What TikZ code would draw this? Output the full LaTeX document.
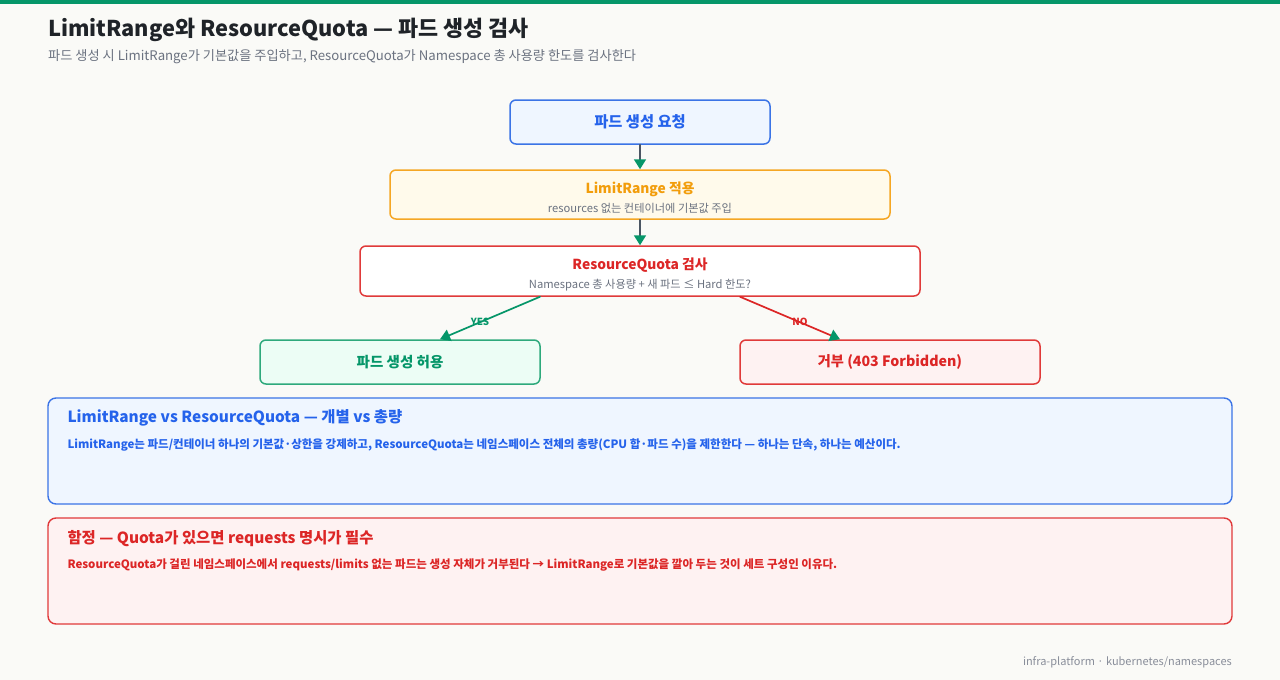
\documentclass[tikz,border=0pt]{standalone}
\usepackage{fontspec}
\setmainfont{Noto Sans CJK KR}
\usetikzlibrary{arrows.meta,positioning}
\definecolor{pagebg}{HTML}{FAFAF7}
\definecolor{accent}{HTML}{059669}
\definecolor{ink}{HTML}{1F2328}
\definecolor{muted}{HTML}{6B7280}
\definecolor{blueln}{HTML}{3B74E6}
\definecolor{bluebg}{HTML}{EFF6FF}
\definecolor{bluetx}{HTML}{2563EB}
\definecolor{amberln}{HTML}{F5A623}
\definecolor{amberbg}{HTML}{FFFAEB}
\definecolor{ambertx}{HTML}{F29D0B}
\definecolor{redln}{HTML}{E03A3A}
\definecolor{redbg}{HTML}{FEF2F2}
\definecolor{redtx}{HTML}{DC2626}
\definecolor{greenln}{HTML}{2EA97C}
\definecolor{greenbg}{HTML}{ECFDF5}
\definecolor{linkgray}{HTML}{4B5563}
\tikzset{
  box/.style={rounded corners=6pt,line width=1.5pt,inner sep=0pt},
  panel/.style={rounded corners=8pt,line width=1.4pt,inner sep=0pt,minimum width=1184,minimum height=106},
  flow/.style={line width=1.7pt,-{Triangle[length=10pt,width=12pt,color=accent]}},
  tag/.style={font=\fontsize{9.8}{11}\selectfont\bfseries},
}
\begin{document}
\begin{tikzpicture}[x=1pt,y=-1pt,line join=round,line cap=round]
\useasboundingbox[fill=pagebg] (0,0) rectangle (1280,680);
\fill[accent] (0,0) rectangle (1280,4);
% heading
\node[anchor=west,inner sep=0pt,text=ink,font=\fontsize{21.8}{26}\selectfont\bfseries] (title) at (48,30) {LimitRange와 ResourceQuota — 파드 생성 검사};
\node[anchor=west,inner sep=0pt,text=muted,font=\fontsize{13.2}{15}\selectfont] (subtitle) at (48,57) {파드 생성 시 LimitRange가 기본값을 주입하고, ResourceQuota가 Namespace 총 사용량 한도를 검사한다};
% flow boxes
\node[box,draw=blueln,fill=bluebg,minimum width=260,minimum height=44,text=bluetx,font=\fontsize{15.3}{17}\selectfont\bfseries] (req) at (640,122) {파드 생성 요청};
\node[box,draw=amberln,fill=amberbg,minimum width=500,minimum height=49] (limit) at (640,194.5) {};
\node[text=ambertx,font=\fontsize{13.8}{16}\selectfont\bfseries] (limitT) at ([yshift=5]limit.center) {LimitRange 적용};
\node[text=muted,font=\fontsize{11.2}{13}\selectfont] (limitS) at ([yshift=-13.5]limit.center) {resources 없는 컨테이너에 기본값 주입};
\node[box,draw=redln,fill=white,minimum width=560,minimum height=50] (quota) at (640,271) {};
\node[text=redtx,font=\fontsize{13.8}{16}\selectfont\bfseries] (quotaT) at ([yshift=5.5]quota.center) {ResourceQuota 검사};
\node[text=muted,font=\fontsize{11.2}{13}\selectfont] (quotaS) at ([yshift=-14]quota.center) {Namespace 총 사용량 + 새 파드 ≤ Hard 한도?};
\node[box,draw=greenln,fill=greenbg,minimum width=280,minimum height=44,text=accent,font=\fontsize{14.5}{17}\selectfont\bfseries] (allow) at (400,362) {파드 생성 허용};
\node[box,draw=redln,fill=redbg,minimum width=300,minimum height=44,text=redtx,font=\fontsize{14.2}{17}\selectfont\bfseries] (deny) at (890,362) {거부 (403 Forbidden)};
% connectors
\draw[flow,draw=linkgray] (req.south) -- (limit.north);
\draw[flow,draw=linkgray] (limit.south) -- (quota.north);
\draw[flow,draw=accent] ([xshift=-100]quota.south) -- ([xshift=40]allow.north) node[pos=0.6,tag,text=accent]{YES};
\draw[flow,draw=redtx] ([xshift=100]quota.south) -- ([xshift=-50]deny.north) node[pos=0.6,tag,text=redtx]{NO};
% notes
\node[panel,draw=blueln,fill=bluebg] (noteA) at (640,451) {};
\node[anchor=west,inner sep=0pt,text=bluetx,font=\fontsize{15.4}{18}\selectfont\bfseries] (noteAT) at ([xshift=20,yshift=-21]noteA.north west) {LimitRange vs ResourceQuota — 개별 vs 총량};
\node[anchor=west,inner sep=0pt,text=bluetx,font=\fontsize{11.5}{13}\selectfont\bfseries] (noteAB) at ([xshift=20,yshift=-47.5]noteA.north west) {LimitRange는 파드/컨테이너 하나의 기본값·상한을 강제하고, ResourceQuota는 네임스페이스 전체의 총량(CPU 합·파드 수)을 제한한다 — 하나는 단속, 하나는 예산이다.};
\node[panel,draw=redln,fill=redbg] (noteB) at (640,571) {};
\node[anchor=west,inner sep=0pt,text=redtx,font=\fontsize{15.4}{18}\selectfont\bfseries] (noteBT) at ([xshift=20,yshift=-21]noteB.north west) {함정 — Quota가 있으면 requests 명시가 필수};
\node[anchor=west,inner sep=0pt,text=redtx,font=\fontsize{11.5}{13}\selectfont\bfseries] (noteBB) at ([xshift=20,yshift=-47.5]noteB.north west) {ResourceQuota가 걸린 네임스페이스에서 requests/limits 없는 파드는 생성 자체가 거부된다 → LimitRange로 기본값을 깔아 두는 것이 세트 구성인 이유다.};
% footer
\node[anchor=east,inner sep=0pt,text=muted!80,font=\fontsize{11}{13}\selectfont] (foot) at (1232,662) {infra-platform · kubernetes/namespaces};
\end{tikzpicture}
\end{document}
